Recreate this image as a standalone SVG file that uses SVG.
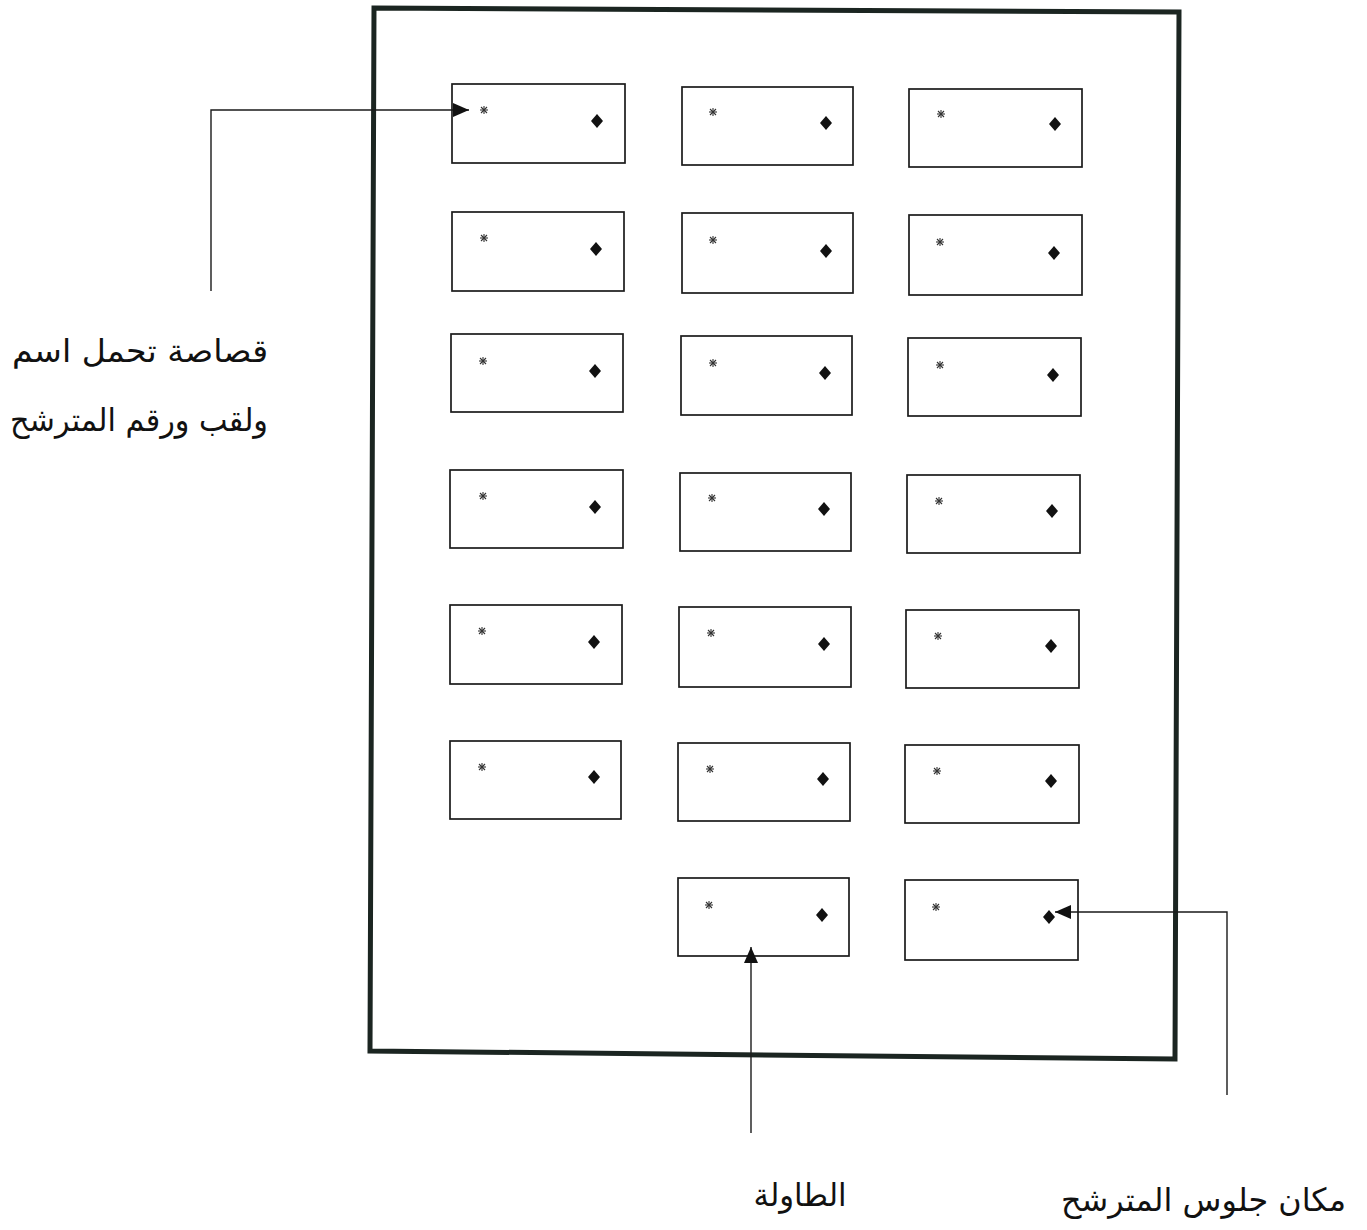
<svg xmlns="http://www.w3.org/2000/svg" xmlns:xlink="http://www.w3.org/1999/xlink" width="1367" height="1230" viewBox="0 0 1367 1230">
<style>
.frame{fill:none;stroke:#1b2521;stroke-width:5;stroke-linejoin:miter}
.box{fill:#fff;stroke:#1a1a1a;stroke-width:1.7}
.conn{fill:none;stroke:#1a1a1a;stroke-width:1.4}
.lbl{font-family:"DejaVu Sans","Liberation Sans",sans-serif;font-size:32px;fill:#111}
.star line{stroke:#333;stroke-width:1.1}
.dia{fill:#111}
</style>
<defs>
<g id="star" class="star">
<line x1="-4" y1="0" x2="4" y2="0"/><line x1="0" y1="-4" x2="0" y2="4"/>
<line x1="-3" y1="-3" x2="3" y2="3"/><line x1="-3" y1="3" x2="3" y2="-3"/>
</g>
<polygon id="dia" class="dia" points="0,-7 6,0 0,7 -6,0"/>
<marker id="ah" viewBox="0 0 16 14" refX="16" refY="7" markerWidth="16" markerHeight="14" markerUnits="userSpaceOnUse" orient="auto">
<path d="M0,0 L16,7 L0,14 z" fill="#111"/>
</marker>
</defs>
<rect width="1367" height="1230" fill="#fff"/>
<g id="frame"><polygon class="frame" points="374,8 1179,12 1175,1059 370,1051"/></g>
<g id="tables">
<g id="t1-1"><rect class="box" x="452" y="84" width="173" height="79"/><use xlink:href="#star" x="484" y="110"/><use xlink:href="#dia" x="597" y="121"/></g>
<g id="t1-2"><rect class="box" x="682" y="87" width="171" height="78"/><use xlink:href="#star" x="713" y="112"/><use xlink:href="#dia" x="826" y="123"/></g>
<g id="t1-3"><rect class="box" x="909" y="89" width="173" height="78"/><use xlink:href="#star" x="941" y="114"/><use xlink:href="#dia" x="1055" y="124"/></g>
<g id="t2-1"><rect class="box" x="452" y="212" width="172" height="79"/><use xlink:href="#star" x="484" y="238"/><use xlink:href="#dia" x="596" y="249"/></g>
<g id="t2-2"><rect class="box" x="682" y="213" width="171" height="80"/><use xlink:href="#star" x="713" y="240"/><use xlink:href="#dia" x="826" y="251"/></g>
<g id="t2-3"><rect class="box" x="909" y="215" width="173" height="80"/><use xlink:href="#star" x="940" y="242"/><use xlink:href="#dia" x="1054" y="253"/></g>
<g id="t3-1"><rect class="box" x="451" y="334" width="172" height="78"/><use xlink:href="#star" x="483" y="361"/><use xlink:href="#dia" x="595" y="371"/></g>
<g id="t3-2"><rect class="box" x="681" y="336" width="171" height="79"/><use xlink:href="#star" x="713" y="363"/><use xlink:href="#dia" x="825" y="373"/></g>
<g id="t3-3"><rect class="box" x="908" y="338" width="173" height="78"/><use xlink:href="#star" x="940" y="365"/><use xlink:href="#dia" x="1053" y="375"/></g>
<g id="t4-1"><rect class="box" x="450" y="470" width="173" height="78"/><use xlink:href="#star" x="483" y="496"/><use xlink:href="#dia" x="595" y="507"/></g>
<g id="t4-2"><rect class="box" x="680" y="473" width="171" height="78"/><use xlink:href="#star" x="712" y="498"/><use xlink:href="#dia" x="824" y="509"/></g>
<g id="t4-3"><rect class="box" x="907" y="475" width="173" height="78"/><use xlink:href="#star" x="939" y="501"/><use xlink:href="#dia" x="1052" y="511"/></g>
<g id="t5-1"><rect class="box" x="450" y="605" width="172" height="79"/><use xlink:href="#star" x="482" y="631"/><use xlink:href="#dia" x="594" y="642"/></g>
<g id="t5-2"><rect class="box" x="679" y="607" width="172" height="80"/><use xlink:href="#star" x="711" y="633"/><use xlink:href="#dia" x="824" y="644"/></g>
<g id="t5-3"><rect class="box" x="906" y="610" width="173" height="78"/><use xlink:href="#star" x="938" y="636"/><use xlink:href="#dia" x="1051" y="646"/></g>
<g id="t6-1"><rect class="box" x="450" y="741" width="171" height="78"/><use xlink:href="#star" x="482" y="767"/><use xlink:href="#dia" x="594" y="777"/></g>
<g id="t6-2"><rect class="box" x="678" y="743" width="172" height="78"/><use xlink:href="#star" x="710" y="769"/><use xlink:href="#dia" x="823" y="779"/></g>
<g id="t6-3"><rect class="box" x="905" y="745" width="174" height="78"/><use xlink:href="#star" x="937" y="771"/><use xlink:href="#dia" x="1051" y="781"/></g>
<g id="t7-2"><rect class="box" x="678" y="878" width="171" height="78"/><use xlink:href="#star" x="709" y="905"/><use xlink:href="#dia" x="822" y="915"/></g>
<g id="t7-3"><rect class="box" x="905" y="880" width="173" height="80"/><use xlink:href="#star" x="936" y="907"/><use xlink:href="#dia" x="1049" y="917"/></g>
</g>
<g id="connectors">
<path class="conn" d="M211,291 V110 H469" marker-end="url(#ah)"/>
<path class="conn" d="M751,1133 V947" marker-end="url(#ah)"/>
<path class="conn" d="M1227,1095 V912 H1055" marker-end="url(#ah)"/>
</g>
<g id="label-slip">
<text class="lbl" x="268" y="362" text-anchor="end" textLength="256" lengthAdjust="spacingAndGlyphs">قصاصة تحمل اسم</text>
<text class="lbl" x="268" y="431" text-anchor="end" textLength="258" lengthAdjust="spacingAndGlyphs">ولقب ورقم المترشح</text>
</g>
<g id="label-table"><text class="lbl" x="800" y="1206" text-anchor="middle" textLength="93" lengthAdjust="spacingAndGlyphs">الطاولة</text></g>
<g id="label-seat"><text class="lbl" x="1346" y="1211" text-anchor="end" textLength="285" lengthAdjust="spacingAndGlyphs">مكان جلوس المترشح</text></g>
</svg>
